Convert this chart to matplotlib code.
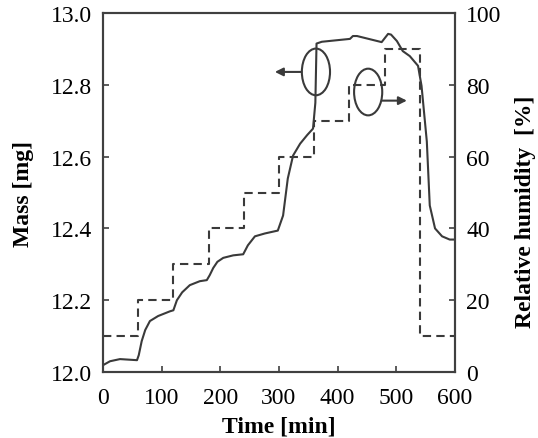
import matplotlib
matplotlib.use("Agg")
import matplotlib.pyplot as plt
from matplotlib.patches import Ellipse

plt.rcParams['font.family'] = ['Liberation Serif', 'DejaVu Serif']

# mass curve (time in min, mass in mg)
time_mass = [0, 12, 29, 58, 61, 66, 72, 80, 94, 114, 120, 126, 135, 148, 165, 177,
             182, 188, 195, 205, 222, 239, 247, 259, 276, 298, 307, 315, 324, 336,
             348, 358, 362, 364, 373, 421, 426, 433, 475, 486, 491, 501, 511, 523,
             537, 543, 552, 557, 566, 578, 591, 600]
mass = [12.019, 12.03, 12.036, 12.033, 12.047, 12.086, 12.117, 12.142, 12.156, 12.169,
        12.172, 12.2, 12.222, 12.242, 12.253, 12.256, 12.27, 12.29, 12.307, 12.318,
        12.325, 12.328, 12.353, 12.378, 12.386, 12.394, 12.436, 12.539, 12.603, 12.636,
        12.66, 12.678, 12.75, 12.915, 12.92, 12.928, 12.936, 12.936, 12.919, 12.942,
        12.94, 12.922, 12.894, 12.88, 12.853, 12.797, 12.642, 12.464, 12.40, 12.378,
        12.369, 12.369]

# relative humidity steps
time_rh = [0, 60, 120, 180, 240, 300, 360, 420, 480, 540, 600]
rh = [10, 20, 30, 40, 50, 60, 70, 80, 90, 10, 10]

line_col = '#3a3a3a'

fig = plt.figure(figsize=(5.38, 4.39), dpi=100)
ax = fig.add_axes([0.1914, 0.1503, 0.6543, 0.8177])
ax2 = ax.twinx()

ax.plot(time_mass, mass, color=line_col, lw=1.5)
ax2.plot(time_rh, rh, color=line_col, lw=1.5, ls=(0, (4, 2.5)), drawstyle='steps-post')

ax.set_xlim(0, 600)
ax.set_ylim(12.0, 13.0)
ax2.set_ylim(0, 100)
ax.set_xticks(range(0, 601, 100))
ax.set_yticks([12.0, 12.2, 12.4, 12.6, 12.8, 13.0])
ax.set_yticklabels(['12.0', '12.2', '12.4', '12.6', '12.8', '13.0'])
ax2.set_yticks(range(0, 101, 20))

for a in (ax, ax2):
    for s in a.spines.values():
        s.set_linewidth(1.5)
        s.set_color('#404040')
    a.tick_params(direction='in', length=4, width=1.2, color='#404040',
                  labelsize=17, pad=8)
ax.tick_params(axis='x', pad=11)

ax.set_xlabel('Time [min]', fontsize=17, fontweight='bold', labelpad=5)
ax.set_ylabel('Mass [mg]', fontsize=17, fontweight='bold', labelpad=12)
ax2.set_ylabel('Relative humidity  [%]', fontsize=17, fontweight='bold', labelpad=10)
ax2.yaxis.label.set_y(0.45)

# markers indicating which axis each curve belongs to
ax.add_patch(Ellipse((363, 12.836), 48, 0.13, fill=False, ec=line_col, lw=1.5))
ax.add_patch(Ellipse((452, 12.78), 48, 0.13, fill=False, ec=line_col, lw=1.5))
ax.annotate('', xy=(293, 12.836), xytext=(338, 12.836),
            arrowprops=dict(arrowstyle='-|>', color=line_col, lw=1.5, mutation_scale=12,
                            shrinkA=0, shrinkB=0))
ax.annotate('', xy=(518, 12.756), xytext=(476, 12.756),
            arrowprops=dict(arrowstyle='-|>', color=line_col, lw=1.5, mutation_scale=12,
                            shrinkA=0, shrinkB=0))

fig.savefig('out.png', dpi=100)
